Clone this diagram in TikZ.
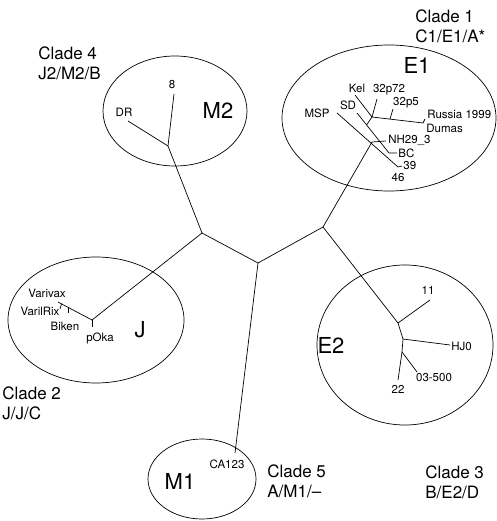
\documentclass[tikz,border=0pt]{standalone}
\usepackage{fontspec}
\setmainfont{TeX Gyre Heros}
\usetikzlibrary{shapes.geometric}
\begin{document}
\begin{tikzpicture}[x=1pt, y=-1pt, line width=0.7pt,
    leaf/.style={font=\fontsize{11.5}{13}\selectfont, inner sep=0pt},
    groupname/.style={font=\fontsize{22}{24}\selectfont, inner sep=0pt},
    cladetag/.style={font=\fontsize{17}{20}\selectfont, align=left, anchor=west, inner sep=0pt},
    group/.style={draw, ellipse, inner sep=0pt}]
  \useasboundingbox (0,0) rectangle (496,521);

  % the five groups
  \node[group, minimum width=214pt, minimum height=146pt] (gE1) at (389,118) {};
  \node[group, minimum width=144pt, minimum height=110pt] (gM2) at (175,111) {};
  \node[group, minimum width=176pt, minimum height=126pt] (gJ)  at (96,320)  {};
  \node[group, minimum width=176pt, minimum height=160pt] (gE2) at (405,345) {};
  \node[group, minimum width=108pt, minimum height=80pt]  (gM1) at (202,479) {};

  \node[groupname] (tE1) at (417,65)  {E1};
  \node[groupname] (tM2) at (218,110) {M2};
  \node[groupname] (tJ)  at (140,330) {J};
  \node[groupname] (tE2) at (331,345) {E2};
  \node[groupname] (tM1) at (180,481) {M1};

  \node[cladetag] (k1) at (415,26)  {Clade 1\\C1/E1/A*};
  \node[cladetag] (k4) at (38,63)   {Clade 4\\J2/M2/B};
  \node[cladetag] (k2) at (2,403)   {Clade 2\\J/J/C};
  \node[cladetag] (k5) at (267,481) {Clade 5\\A/M1/–};
  \node[cladetag] (k3) at (425,482) {Clade 3\\B/E2/D};

  % backbone
  \coordinate (nA) at (202,233);
  \coordinate (nB) at (258,263);
  \coordinate (nC) at (323,227);
  \draw (nA) -- (nB) -- (nC);

  % clade 4
  \coordinate (m2j) at (168,146);
  \coordinate (m2a) at (174,94);
  \coordinate (m2b) at (128,121);
  \node[leaf] (l8)  at (172,85)  {8};
  \node[leaf] (lDR) at (124,112) {DR};
  \draw (nA) -- (m2j);
  \draw (m2j) -- (m2a);
  \draw (m2j) -- (m2b);

  % clade 2
  \coordinate (jP)  at (92,320);
  \coordinate (jV)  at (58,302);
  \coordinate (jPo) at (92,327);
  \coordinate (jB1) at (68,307.3);
  \coordinate (jB2) at (68,313);
  \coordinate (jR1) at (61.5,303.8);
  \coordinate (jR2) at (60,309);
  \node[leaf] (lVarivax)  at (47,293)  {Varivax};
  \node[leaf] (lVarilRix) at (40,311)  {VarilRix};
  \node[leaf] (lBiken)    at (65,326)  {Biken};
  \node[leaf] (lpOka)     at (100,338) {pOka};
  \draw (nA) -- (jP);
  \draw (jP) -- (jV);
  \draw (jP) -- (jPo);
  \draw (jB1) -- (jB2);
  \draw (jR1) -- (jR2);

  % clade 5
  \coordinate (m1a) at (235,453);
  \node[leaf] (lCA) at (227,464) {CA123};
  \draw (nB) -- (m1a);

  % clade 1
  \coordinate (e1J)  at (372,142);
  \coordinate (e1NH) at (386,141);
  \coordinate (e1M)  at (337,113);
  \coordinate (e1Me) at (398,167);
  \coordinate (e139) at (402,166);
  \coordinate (e1S)  at (357,113);
  \coordinate (e1Se) at (389,153);
  \coordinate (e1BC) at (397,153);
  \coordinate (e1Sk) at (366.6,125);
  \coordinate (e1K)  at (372,117);
  \coordinate (e1Ke) at (355,95);
  \coordinate (e1P7) at (377,99);
  \coordinate (e1R)  at (423,123);
  \coordinate (e1Rt) at (425,119);
  \coordinate (e1P5) at (390,119);
  \coordinate (e1P5t) at (393,109);
  \node[leaf] (lKel)    at (357,88)  {Kel};
  \node[leaf] (l32p72)  at (389,90)  {32p72};
  \node[leaf] (l32p5)   at (406,103) {32p5};
  \node[leaf, anchor=west] (lRussia) at (427,114) {Russia 1999};
  \node[leaf, anchor=west] (lDumas)  at (426,128) {Dumas};
  \node[leaf] (lMSP)    at (317,113) {MSP};
  \node[leaf] (lSD)     at (348,105) {SD};
  \node[leaf, anchor=west] (lNH) at (388,140) {NH29\_3};
  \node[leaf, anchor=west] (lBC) at (398,153) {BC};
  \node[leaf, anchor=west] (l39) at (403,166) {39};
  \node[leaf] (l46)     at (398,178) {46};
  \draw (nC) -- (e1J);
  \draw (e1J) -- (e1NH);
  \draw (e1M) -- (e1Me) -- (e139);
  \draw (e1S) -- (e1Se) -- (e1BC);
  \draw (e1Sk) -- (e1K);
  \draw (e1K) -- (e1Ke);
  \draw (e1K) -- (e1P7);
  \draw (e1K) -- (e1R) -- (e1Rt);
  \draw (e1P5) -- (e1P5t);

  % clade 3
  \coordinate (e2Q)  at (398,323);
  \coordinate (e2Q2) at (403,339);
  \coordinate (e2Q3) at (402,352);
  \coordinate (e211) at (430,300);
  \coordinate (e2HJ) at (450,345);
  \coordinate (e222) at (398,380);
  \coordinate (e203) at (417,372);
  \node[leaf] (l11)   at (428,290) {11};
  \node[leaf, anchor=west] (lHJ0) at (451,346) {HJ0};
  \node[leaf] (l22)   at (398,389) {22};
  \node[leaf] (l03)   at (434,378) {03-500};
  \draw (nC) -- (e2Q);
  \draw (e2Q) -- (e211);
  \draw (e2Q) -- (e2Q2) -- (e2Q3);
  \draw (e2Q2) -- (e2HJ);
  \draw (e2Q3) -- (e222);
  \draw (e2Q3) -- (e203);
\end{tikzpicture}
\end{document}
